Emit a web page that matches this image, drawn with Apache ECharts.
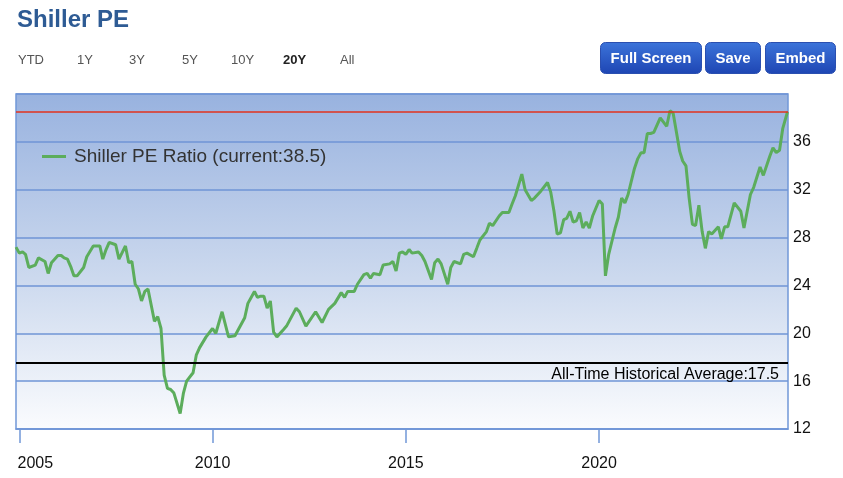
<!DOCTYPE html>
<html>
<head>
<meta charset="utf-8">
<script src="https://cdn.jsdelivr.net/npm/echarts@6/dist/echarts.min.js"></script>
<style>
html,body{margin:0;padding:0;background:#fff;}
#chart{width:843px;height:478px;}
</style>
</head>
<body>
<div id="chart"></div>
<script>
// ---- data (monthly Shiller PE) ----
const dates = [
'2004-12','2005-01','2005-02','2005-03','2005-04','2005-06','2005-07','2005-09','2005-10','2005-11',
'2006-01','2006-02','2006-03','2006-04','2006-05','2006-06','2006-07','2006-09','2006-10','2006-12',
'2007-02','2007-03','2007-04','2007-05','2007-07','2007-08','2007-10','2007-11','2007-12',
'2008-01','2008-02','2008-03','2008-04','2008-05','2008-07','2008-08','2008-09','2008-10','2008-11','2008-12',
'2009-01','2009-03','2009-04','2009-05','2009-07','2009-08','2009-09','2009-11',
'2010-01','2010-02','2010-04','2010-06','2010-08','2010-11','2010-12',
'2011-02','2011-03','2011-04','2011-05','2011-06','2011-07','2011-08','2011-09','2011-11','2011-12',
'2012-03','2012-04','2012-06','2012-09','2012-11',
'2013-01','2013-03','2013-05','2013-06','2013-07','2013-09','2013-10','2013-12',
'2014-01','2014-02','2014-03','2014-05','2014-06','2014-08','2014-09','2014-10','2014-11','2014-12',
'2015-01','2015-02','2015-03','2015-05','2015-06','2015-07','2015-09','2015-10','2015-11','2015-12',
'2016-02','2016-03','2016-04','2016-06','2016-07','2016-08','2016-10','2016-11','2016-12',
'2017-02','2017-03','2017-04','2017-06','2017-07','2017-09','2017-10','2017-11',
'2018-01','2018-02','2018-04','2018-05','2018-07','2018-09','2018-10','2018-11','2018-12',
'2019-01','2019-02','2019-03','2019-04','2019-05','2019-06','2019-07','2019-08','2019-09','2019-10','2019-11',
'2020-01','2020-02','2020-03','2020-04','2020-06','2020-07','2020-08','2020-09','2020-10','2020-12',
'2021-01','2021-02','2021-03','2021-04','2021-05','2021-06','2021-08','2021-10','2021-11','2021-12',
'2022-01','2022-02','2022-03','2022-04','2022-05','2022-06','2022-07','2022-08','2022-09','2022-10','2022-11','2022-12',
'2023-02','2023-03','2023-04','2023-05','2023-07','2023-09','2023-10','2023-12',
'2024-01','2024-03','2024-04','2024-06','2024-07','2024-08','2024-09','2024-10','2024-11-15'
];
const peValues = [
27.2,26.7,26.8,26.6,25.5,25.7,26.3,26.0,25.0,25.9,
26.5,26.5,26.3,26.2,25.6,24.8,24.8,25.5,26.4,27.3,
27.3,26.2,27.0,27.6,27.4,26.2,27.3,25.9,26.0,
24.1,23.7,22.7,23.5,23.7,21.0,21.4,20.4,16.5,15.4,15.3,
15.0,13.3,15.0,16.0,16.7,18.2,18.8,19.7,
20.4,20.0,21.8,19.7,19.8,21.3,22.5,
23.5,23.0,23.1,23.1,22.1,22.7,20.1,19.7,20.3,20.6,
22.1,21.8,20.6,21.8,20.9,
22.0,22.5,23.4,23.0,23.5,23.5,24.1,24.9,
25.0,24.6,25.0,24.9,25.7,25.8,26.0,25.2,26.7,26.8,
26.6,27.0,26.7,26.8,26.5,26.0,24.5,25.9,26.2,25.8,
24.1,25.5,26.0,25.8,26.6,26.7,26.4,27.1,27.8,
28.5,29.2,29.0,29.8,30.1,30.1,30.8,31.5,
33.3,32.0,31.1,31.3,31.9,32.6,31.8,30.2,28.3,
28.4,29.5,29.6,30.2,29.3,29.4,30.1,28.8,29.3,28.8,29.8,
31.1,30.8,24.8,26.6,28.8,29.7,31.3,30.9,31.6,33.8,
34.6,35.1,35.1,36.7,36.7,36.8,38.0,37.3,38.6,38.4,
36.8,35.2,34.4,34.0,31.3,29.1,29.0,30.7,28.5,27.1,28.5,28.3,
28.9,27.9,28.9,28.9,30.9,30.2,28.8,31.6,
32.2,33.9,33.2,34.8,35.5,35.1,35.3,37.1,38.5
];
const seriesName = 'Shiller PE Ratio (current:38.5)';
const currentValue = 38.5;
const historicalAverage = 17.5;
const averageLabel = 'All-Time Historical Average:17.5';
const xTickYears = [2005, 2010, 2015, 2020];
const xRange = ['2004-12-01', '2024-11-20'];
const yTicks = [12, 16, 20, 24, 28, 32, 36, 40];
const rangeButtons = ['YTD', '1Y', '3Y', '5Y', '10Y', '20Y', 'All'];
const actionButtons = ['Full Screen', 'Save', 'Embed'];
const titleText = 'Shiller PE';

const FONT = "'Liberation Sans', Arial, Helvetica, sans-serif";
function toTime(s) {
  const p = s.split('-').map(Number);
  return new Date(p[0], (p[1] || 1) - 1, p[2] || 1).getTime();
}
const chart = echarts.init(document.getElementById('chart'), null, {renderer: 'canvas'});

const seriesData = dates.map((d, i) => [toTime(d), peValues[i]]);
const xTickTimes = xTickYears.map(y => new Date(y, 0, 1).getTime());

// range selector + buttons (UI decoration)
const rangeX = [18, 77, 129, 182, 231, 283, 340];
const graphics = rangeButtons.map((t, i) => ({
  type: 'text', left: rangeX[i], top: 54,
  style: {text: t, fill: t === '20Y' ? '#222' : '#555', font: (t === '20Y' ? 'bold ' : '') + '13px ' + FONT}
}));
const btnBoxes = [[600, 101], [705, 55], [765, 70]];
actionButtons.forEach((t, i) => {
  const [bx, bw] = btnBoxes[i];
  graphics.push({
    type: 'group', left: bx, top: 42,
    children: [
      {type: 'rect', shape: {x: 0, y: 0, width: bw, height: 31, r: 5},
        style: {fill: new echarts.graphic.LinearGradient(0, 0, 0, 1, [
          {offset: 0, color: '#3c74da'}, {offset: 1, color: '#1e45b3'}]),
          stroke: '#2a4fb0', lineWidth: 1}},
      {type: 'text', x: bw / 2, y: 16,
        style: {text: t, fill: '#fff', font: 'bold 15px ' + FONT, align: 'center', verticalAlign: 'middle'}}
    ]
  });
});

chart.setOption({
  animation: false,
  textStyle: {fontFamily: FONT},
  title: {
    text: titleText, left: 12, top: 3,
    textStyle: {fontSize: 24, fontWeight: 'bold', color: '#2e5b94', fontFamily: FONT}
  },
  legend: {
    left: 37, top: 142, itemWidth: 24, itemHeight: 3, icon: 'rect',
    textStyle: {fontSize: 19, color: '#333', fontFamily: FONT, padding: [0, 0, 0, 3]},
    data: [seriesName]
  },
  grid: {
    left: 16, right: 55, top: 94, bottom: 49,
    show: true, borderColor: '#7298d8', borderWidth: 1.5,
    backgroundColor: new echarts.graphic.LinearGradient(0, 0, 0, 1, [
      {offset: 0, color: '#98b2df'}, {offset: 0.55, color: '#ccd9ee'}, {offset: 1, color: '#fbfcfe'}])
  },
  xAxis: {
    type: 'value',
    min: toTime(xRange[0]), max: toTime(xRange[1]),
    axisLine: {show: true, lineStyle: {color: '#7298d8', width: 1.5}},
    axisTick: {show: true, length: 14, lineStyle: {color: '#7298d8', width: 1.5}, customValues: xTickTimes},
    splitLine: {show: false},
    axisLabel: {
      customValues: xTickTimes,
      margin: 27, fontSize: 16, color: '#111', fontFamily: FONT,
      formatter: function (v) {
        const y = new Date(v).getFullYear();
        return y === xTickYears[0] ? '{first|' + y + '}' : String(y);
      },
      rich: {first: {fontSize: 16, color: '#111', fontFamily: FONT, padding: [0, 0, 0, 32]}}
    }
  },
  yAxis: {
    type: 'value', position: 'right',
    min: yTicks[0], max: yTicks[yTicks.length - 1], interval: 4,
    axisLine: {show: false}, axisTick: {show: false},
    splitLine: {show: true, lineStyle: {color: '#6f94d6', width: 1.5}},
    axisLabel: {margin: 5, fontSize: 16, color: '#111', fontFamily: FONT, showMaxLabel: false,
      padding: [4, 0, 0, 0]}
  },
  series: [{
    name: seriesName, type: 'line', data: seriesData,
    symbol: 'none', showSymbol: false,
    lineStyle: {color: '#5cad5c', width: 3},
    itemStyle: {color: '#5cad5c'},
    markLine: {
      silent: true, symbol: ['none', 'none'], animation: false,
      data: [
        {yAxis: currentValue, lineStyle: {color: '#e2321e', width: 1.5, type: 'solid'}, label: {show: false}},
        {yAxis: historicalAverage, lineStyle: {color: '#000', width: 2, type: 'solid'},
          label: {show: true, position: 'insideEndBottom', formatter: averageLabel,
            fontSize: 16, color: '#000', fontFamily: FONT, distance: [9, 3]}}
      ]
    }
  }],
  graphic: graphics
});
</script>
</body>
</html>
